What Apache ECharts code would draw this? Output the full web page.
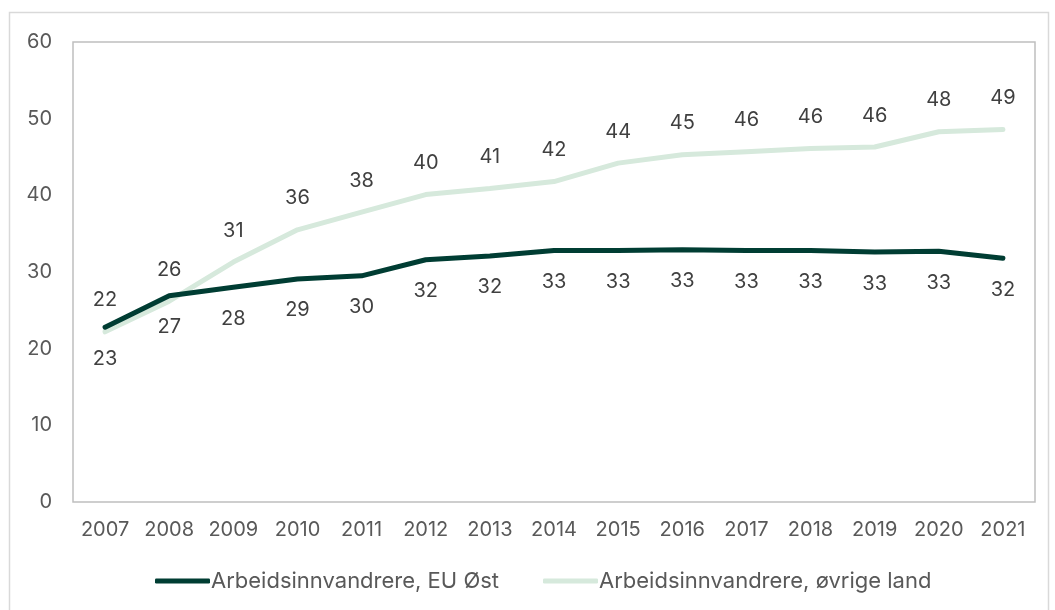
<!DOCTYPE html>
<html>
<head>
<meta charset="utf-8">
<script src="https://cdn.jsdelivr.net/npm/echarts@6/dist/echarts.min.js"></script>
<style>
  html, body { margin: 0; padding: 0; background: #fff; }
  #main { width: 1055px; height: 610px; }
</style>
</head>
<body>
<div id="main"></div>
<script>
var years = ['2007','2008','2009','2010','2011','2012','2013','2014','2015','2016','2017','2018','2019','2020','2021'];
var euOst = [22.8, 26.9, 28.0, 29.1, 29.5, 31.6, 32.1, 32.8, 32.8, 32.9, 32.8, 32.8, 32.6, 32.7, 31.8];
var ovrige = [22.2, 26.2, 31.3, 35.5, 37.8, 40.1, 40.9, 41.8, 44.2, 45.3, 45.7, 46.1, 46.3, 48.3, 48.6];
var yTicks = [0, 10, 20, 30, 40, 50, 60];

var textColor = '#595959';
var labelColor = '#404040';
var darkGreen = '#003d33';
var lightGreen = '#d6e9dc';
var myChart = echarts.init(document.getElementById('main'));
var option = {
  textStyle: { fontFamily: 'Inter' },
  graphic: [{
    type: 'rect',
    shape: { x: 9.5, y: 12.5, width: 1039, height: 620 },
    style: { fill: 'none', stroke: '#d9d9d9', lineWidth: 1.5 },
    silent: true
  }],
  grid: {
    left: 73, right: 20, top: 42, bottom: 108,
    show: true, borderColor: '#bfbfbf', borderWidth: 1.5
  },
  legend: {
    top: 565,
    left: 150,
    itemWidth: 55,
    itemHeight: 5,
    itemGap: 44,
    icon: 'roundRect',
    textStyle: { color: textColor, fontSize: 22, fontFamily: 'Inter', padding: [0, 0, 0, -4] },
    data: ['Arbeidsinnvandrere, EU Øst', 'Arbeidsinnvandrere, øvrige land']
  },
  xAxis: {
    type: 'category',
    data: years,
    boundaryGap: true,
    axisLine: { show: false },
    axisTick: { show: false },
    axisLabel: { color: textColor, fontSize: 20, margin: 18, interval: 0 }
  },
  yAxis: {
    type: 'value',
    min: yTicks[0],
    max: yTicks[yTicks.length - 1],
    interval: 10,
    splitLine: { show: false },
    axisLine: { show: false },
    axisTick: { show: false },
    axisLabel: { color: textColor, fontSize: 20, margin: 21 }
  },
  series: [{
    name: 'Arbeidsinnvandrere, EU Øst',
    type: 'line',
    data: euOst,
    symbol: 'circle',
    symbolSize: 3,
    showSymbol: true,
    itemStyle: { color: darkGreen },
    lineStyle: { width: 5, color: darkGreen, cap: 'round' },
    label: {
      show: true, position: 'bottom', distance: 20,
      color: labelColor, fontSize: 20,
      formatter: function (p) { return Math.round(p.value); }
    },
    z: 3
  }, {
    name: 'Arbeidsinnvandrere, øvrige land',
    type: 'line',
    data: ovrige,
    symbol: 'circle',
    symbolSize: 3,
    showSymbol: true,
    itemStyle: { color: lightGreen },
    lineStyle: { width: 5, color: lightGreen, cap: 'round' },
    label: {
      show: true, position: 'top', distance: 20,
      color: labelColor, fontSize: 20,
      formatter: function (p) { return Math.round(p.value); }
    },
    z: 2
  }]
};
myChart.setOption(option);
</script>
</body>
</html>
